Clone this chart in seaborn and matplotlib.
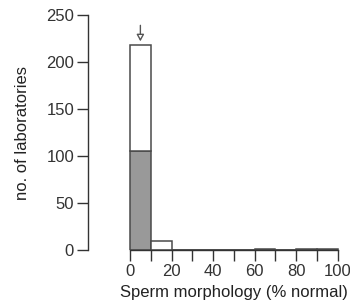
import matplotlib
matplotlib.use("Agg")
import matplotlib.pyplot as plt
import seaborn as sns
import pandas as pd
import numpy as np

# Data
bin_edges = [0, 10, 20, 30, 40, 50, 60, 70, 80, 90, 100]
bin_centers = [5, 15, 25, 35, 45, 55, 65, 75, 85, 95]
gray_counts = [105, 0, 0, 0, 0, 0, 0, 0, 0, 0]
white_counts = [113, 10, 0, 0, 0, 0, 1, 0, 1, 1]
arrow_x = 5

sns.set_style("ticks")
plt.rcParams['font.family'] = ['Liberation Sans', 'DejaVu Sans']

df = pd.DataFrame({
    "x": bin_centers * 2,
    "count": gray_counts + white_counts,
    "group": ["gray"] * len(bin_centers) + ["white"] * len(bin_centers),
})

fig = plt.figure(figsize=(3.5, 3.0), dpi=100)
ax = fig.add_axes([88/350, 50/300, 254/350, 235/300])

sns.histplot(data=df, x="x", weights="count", hue="group", hue_order=["white", "gray"],
             multiple="stack", bins=bin_edges, palette={"gray": "#999999", "white": "white"},
             edgecolor="#4a4a4a", linewidth=1.1, alpha=1, legend=False, ax=ax)

xmin, xmax = -20.2, 102
ax.set_xlim(xmin, xmax)
ax.set_ylim(0, 250)
ax.spines['top'].set_visible(False)
ax.spines['right'].set_visible(False)
ax.spines['left'].set_bounds(0, 250)
ax.spines['bottom'].set_bounds(0, 100)
for s in ['left', 'bottom']:
    ax.spines[s].set_color('#333333')
    ax.spines[s].set_linewidth(1.0)

ax.set_xticks(range(0, 101, 10))
ax.set_xticklabels([str(v) if v % 20 == 0 else '' for v in range(0, 101, 10)])
ax.set_yticks(range(0, 251, 50))
ax.tick_params(axis='both', length=8, width=1.0, color='#333333', labelsize=12, labelcolor='#333333', pad=2)

ax.set_xlabel("Sperm morphology (% normal)", fontsize=12, color='#222222', labelpad=0)
ax.xaxis.set_label_coords((50 - xmin) / (xmax - xmin), -0.15)
ax.set_ylabel("no. of laboratories", fontsize=12, color='#222222', labelpad=12)

ax.annotate('', xy=(arrow_x, 222), xytext=(arrow_x, 239),
            arrowprops=dict(arrowstyle='-|>,head_length=0.4,head_width=0.22', fc='white', ec='#555555', lw=1.0,
                            shrinkA=0, shrinkB=0),
            annotation_clip=False)

fig.savefig("out.png", dpi=100)
